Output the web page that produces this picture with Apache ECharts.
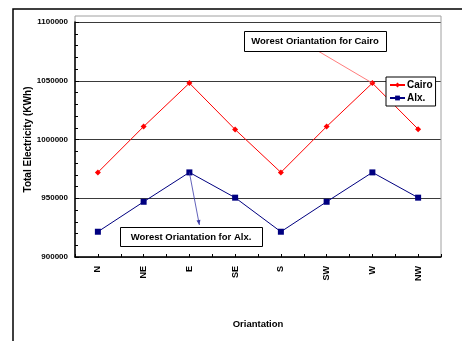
<!DOCTYPE html>
<html>
<head>
<meta charset="utf-8">
<script src="https://cdn.jsdelivr.net/npm/echarts@6/dist/echarts.min.js"></script>
<style>
  html, body { margin: 0; padding: 0; background: #fff; }
  #chart { width: 462px; height: 341px; }
</style>
</head>
<body>
<div id="chart"></div>
<script>
// Orientation categories on the x axis
var orientations = ['N', 'NE', 'E', 'SE', 'S', 'SW', 'W', 'NW'];
// Annual electricity use per orientation (KWh)
var cairo = [972000, 1011000, 1048000, 1008500, 972000, 1011000, 1048000, 1008800];
var alx = [921500, 947000, 972000, 950500, 921500, 947000, 972000, 950500];
// Value axis range
var yMin = 900000;
var yMax = 1100000;
var yStep = 50000;

var FONT = 'Liberation Sans, Arial, sans-serif';
var chart = echarts.init(document.getElementById('chart'), null, { renderer: 'canvas' });

var gridBox = { left: 75, top: 22, right: 21, bottom: 84 };

var option = {
  animation: false,
  backgroundColor: '#fff',
  grid: { left: gridBox.left, top: gridBox.top, right: gridBox.right, bottom: gridBox.bottom, containLabel: false },
  legend: {
    orient: 'vertical',
    left: 386, top: 77,
    padding: [3, 3, 3, 3],
    itemGap: 3,
    itemWidth: 15, itemHeight: 6,
    backgroundColor: '#fff',
    borderColor: '#000', borderWidth: 1,
    textStyle: { fontFamily: FONT, fontWeight: 'bold', fontSize: 10, color: '#000', padding: [0, 0, 0, -3] },
    data: ['Cairo', 'Alx.']
  },
  xAxis: [{
    type: 'category',
    data: orientations,
    boundaryGap: true,
    name: 'Oriantation',
    nameLocation: 'middle',
    nameGap: 62,
    nameMoveOverlap: false,
    nameTextStyle: { fontFamily: FONT, fontWeight: 'bold', fontSize: 9.5, color: '#000' },
    axisLine: { lineStyle: { color: '#000', width: 1.5 } },
    axisTick: { show: true, inside: true, length: 3, alignWithLabel: false, lineStyle: { color: '#000' } },
    axisLabel: { rotate: 90, margin: 9, fontFamily: FONT, fontWeight: 'bold', fontSize: 9, color: '#000' },
    splitLine: { show: false }
  }, {
    type: 'category',
    data: orientations,
    boundaryGap: true,
    position: 'bottom',
    axisLine: { show: false },
    axisTick: { show: true, inside: true, length: 3, alignWithLabel: true, lineStyle: { color: '#000' } },
    axisLabel: { show: false },
    splitLine: { show: false }
  }],
  yAxis: {
    type: 'value',
    min: yMin, max: yMax, interval: yStep,
    name: 'Total Electricity (KWh)',
    nameLocation: 'middle',
    nameGap: 42,
    nameMoveOverlap: false,
    nameTextStyle: { fontFamily: FONT, fontWeight: 'bold', fontSize: 10, color: '#000' },
    axisLine: { show: true, lineStyle: { color: '#000', width: 1.5 } },
    axisTick: { show: true, inside: true, length: 4, lineStyle: { color: '#000' } },
    minorTick: { show: true, splitNumber: 5, length: 3, lineStyle: { color: '#000' } },
    axisLabel: {
      margin: 7, fontFamily: FONT, fontWeight: 'bold', fontSize: 8, color: '#000',
      formatter: function (v) { return String(v); }
    },
    splitLine: { show: true, lineStyle: { color: '#3a3a3a', width: 1.2 } }
  },
  series: [{
    name: 'Cairo',
    type: 'line',
    data: cairo,
    symbol: 'diamond',
    symbolSize: 6,
    itemStyle: { color: '#ff0000' },
    lineStyle: { color: '#ff0000', width: 1 },
    z: 3
  }, {
    name: 'Alx.',
    type: 'line',
    data: alx,
    symbol: 'rect',
    symbolSize: 6,
    itemStyle: { color: '#000080' },
    lineStyle: { color: '#000080', width: 1 },
    z: 3
  }]
};
chart.setOption(option);

// Plot frame, outer chart frame and the two callouts, anchored to the worst points
var wCairo = chart.convertToPixel({ xAxisIndex: 0, yAxisIndex: 0 }, ['W', cairo[6]]);
var eAlx = chart.convertToPixel({ xAxisIndex: 0, yAxisIndex: 0 }, ['E', alx[2]]);
var w = chart.getWidth(), h = chart.getHeight();
var plotL = gridBox.left, plotR = w - gridBox.right, plotB = h - gridBox.bottom;

var arrowTip = [eAlx[0] + 10, 225];
var ang = Math.atan2(arrowTip[1] - eAlx[1], arrowTip[0] - eAlx[0]);
function arrowHead(tip, a, len, half) {
  var bx = tip[0] - len * Math.cos(a), by = tip[1] - len * Math.sin(a);
  return [tip, [bx + half * Math.sin(a), by - half * Math.cos(a)], [bx - half * Math.sin(a), by + half * Math.cos(a)]];
}

chart.setOption({
  graphic: [
    { type: 'rect', z: 0, silent: true,
      shape: { x: 13, y: 9, width: w + 20, height: h + 20 },
      style: { fill: 'none', stroke: '#000', lineWidth: 1.5 } },
    { type: 'rect', z: 0, silent: true,
      shape: { x: plotL, y: 16, width: plotR - plotL, height: plotB - 16 },
      style: { fill: 'none', stroke: '#a0a0a0', lineWidth: 1 } },
    // Cairo callout
    { type: 'line', z: 5, silent: true,
      shape: { x1: 318, y1: 51, x2: wCairo[0], y2: wCairo[1] },
      style: { stroke: '#ff5a5a', lineWidth: 0.8 } },
    { type: 'rect', z: 6, silent: true,
      shape: { x: 244.5, y: 31.5, width: 142, height: 20 },
      style: { fill: '#fff', stroke: '#000', lineWidth: 1 } },
    { type: 'text', z: 7, silent: true,
      x: 315, y: 41.5,
      style: { text: 'Worest Oriantation for Cairo', fontFamily: FONT, fontWeight: 'bold', fontSize: 9.5,
               fill: '#000', align: 'center', verticalAlign: 'middle' } },
    // Alx. callout
    { type: 'line', z: 5, silent: true,
      shape: { x1: eAlx[0], y1: eAlx[1], x2: arrowTip[0], y2: arrowTip[1] },
      style: { stroke: '#3a3aa8', lineWidth: 0.8 } },
    { type: 'polygon', z: 5, silent: true,
      shape: { points: arrowHead(arrowTip, ang, 5, 2) },
      style: { fill: '#3a3aa8' } },
    { type: 'rect', z: 6, silent: true,
      shape: { x: 120.5, y: 227.5, width: 142, height: 19 },
      style: { fill: '#fff', stroke: '#000', lineWidth: 1 } },
    { type: 'text', z: 7, silent: true,
      x: 191, y: 237,
      style: { text: 'Worest Oriantation for Alx.', fontFamily: FONT, fontWeight: 'bold', fontSize: 9.5,
               fill: '#000', align: 'center', verticalAlign: 'middle' } }
  ]
});
</script>
</body>
</html>
